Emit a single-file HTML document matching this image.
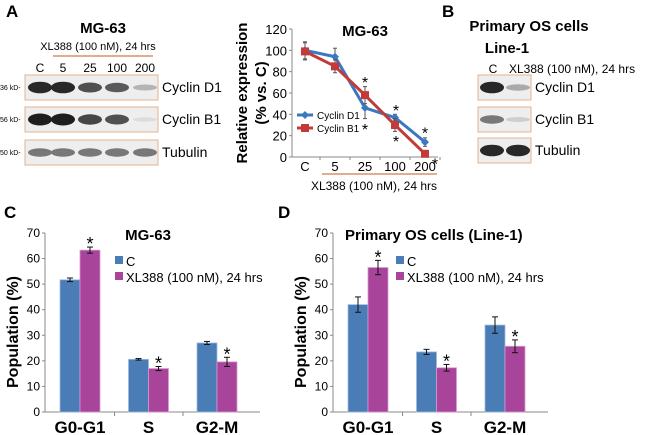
<!DOCTYPE html>
<html><head><meta charset="utf-8"><style>
body{margin:0;background:#fff;}
svg{display:block;font-family:"Liberation Sans",Arial,sans-serif;}
</style></head><body>
<svg id="fig" width="650" height="435" viewBox="0 0 650 435">
<g id="blotA">
<text x="6" y="17" font-size="17" font-weight="bold">A</text>
<text x="103" y="33" font-size="15" font-weight="bold" text-anchor="middle">MG-63</text>
<text x="98" y="50" font-size="11" text-anchor="middle">XL388 (100 nM), 24 hrs</text>
<line x1="53" y1="56" x2="153" y2="56" stroke="#d9926a" stroke-width="1.5"/>
<text x="40" y="72" font-size="12" text-anchor="middle">C</text>
<text x="63" y="72" font-size="12" text-anchor="middle">5</text>
<text x="90" y="72" font-size="12" text-anchor="middle">25</text>
<text x="117" y="72" font-size="12" text-anchor="middle">100</text>
<text x="145" y="72" font-size="12" text-anchor="middle">200</text>
</g>
<g id="blotB">
<text x="442" y="17" font-size="17" font-weight="bold">B</text>
<text x="529" y="31" font-size="15" font-weight="bold" text-anchor="middle">Primary OS cells</text>
<text x="507" y="53" font-size="15" font-weight="bold" text-anchor="middle">Line-1</text>
<text x="493" y="73" font-size="12" text-anchor="middle">C</text>
<text x="509" y="73" font-size="12">XL388 (100 nM), 24 hrs</text>
</g>
<g id="lineA"></g>
<g id="barC"></g>
<g id="barD"></g>
</svg>
<script>
const NS="http://www.w3.org/2000/svg";
function mk(p,t,a,txt){const e=document.createElementNS(NS,t);for(const k in a)e.setAttribute(k,a[k]);if(txt!==undefined)e.textContent=txt;p.appendChild(e);return e;}

// Blots
const blotRowsA=["Cyclin D1","Cyclin B1","Tubulin"];
const blotKdA=["36 kD-","56 kD-","50 kD-"];
const blotIntA=[[0.95,0.95,0.75,0.7,0.25],[1,1,0.8,0.75,0.05],[0.55,0.55,0.55,0.55,0.55]];
const blotRowsB=["Cyclin D1","Cyclin B1","Tubulin"];
const blotIntB=[[0.95,0.3],[0.55,0.12],[0.95,0.95]];
function blot(g,x0,x1,ys,lanes,ints,labels,kd){
  ys.forEach((y,i)=>{
    const r=mk(g,'rect',{x:x0,y:y,width:x1-x0,height:25,fill:'#eeeeee',stroke:'#e2b48f','stroke-width':1});
    
    
    lanes.forEach((lx,j)=>{
      const v=ints[i][j]; const g2=Math.round(230-200*v);
      mk(g,'ellipse',{cx:lx,cy:y+12.5,rx:12,ry:2+4*v,fill:`rgb(${g2},${g2},${g2})`});
    });
    mk(g,'text',{x:x1+4,y:y+17,'font-size':14},labels[i]);
    if(kd) mk(g,'text',{x:0,y:y+15,'font-size':7},kd[i]);
  });
}
blot(document.getElementById('blotA'),25,158,[75,107,140],[40,63,90,117,145],blotIntA,blotRowsA,blotKdA);
blot(document.getElementById('blotB'),478,531,[75,107,138],[492,518],blotIntB,blotRowsB,null);

// Line chart A
const lineCats=["C","5","25","100","200"];
const cyclinD1=[100,94,46,37,14];
const cyclinB1=[99,85,58,30,3];
const errD1=[8,8,10,3,4];
const errB1=[8,6,8,6,2];
const lineTicks=[0,20,40,60,80,100,120];
(function(){
  const g=document.getElementById('lineA');
  const X0=292,Y0=157,Y1=29,step=30,first=305;
  const y=v=>Y0-(v/120)*(Y0-Y1), x=i=>first+i*step;
  mk(g,'line',{x1:X0,y1:Y1,x2:X0,y2:Y0,stroke:'#888'});
  mk(g,'line',{x1:X0,y1:Y0,x2:438,y2:Y0,stroke:'#888'});
  lineTicks.forEach(t=>{mk(g,'line',{x1:X0-3,y1:y(t),x2:X0,y2:y(t),stroke:'#888'});mk(g,'text',{x:X0-5,y:y(t)+5,'font-size':13,'text-anchor':'end'},t);});
  lineCats.forEach((c,i)=>{mk(g,'line',{x1:x(i)+15,y1:Y0,x2:x(i)+15,y2:Y0+3,stroke:'#888'});mk(g,'text',{x:x(i),y:Y0+14,'font-size':13,'text-anchor':'middle'},c);});
  mk(g,'line',{x1:322,y1:174,x2:437,y2:174,stroke:'#d9926a','stroke-width':1.5});
  mk(g,'text',{x:374,y:190,'font-size':12,'text-anchor':'middle'},'XL388 (100 nM), 24 hrs');
  mk(g,'text',{x:365,y:36,'font-size':15,'font-weight':'bold','text-anchor':'middle'},'MG-63');
  const yt=mk(g,'text',{transform:'translate(247,93) rotate(-90)','font-size':15,'font-weight':'bold','text-anchor':'middle'},'Relative expression');
  
  mk(g,'text',{transform:'translate(266,93) rotate(-90)','font-size':15,'font-weight':'bold','text-anchor':'middle'},'(% vs. C)');
  [[cyclinD1,errD1,'#3b78c2','d'],[cyclinB1,errB1,'#c23b3b','s']].forEach(([vals,err,col,shape])=>{
    vals.forEach((v,i)=>{mk(g,'line',{x1:x(i),y1:y(v+err[i]),x2:x(i),y2:y(v-err[i]),stroke:'#555'});mk(g,'line',{x1:x(i)-2,y1:y(v+err[i]),x2:x(i)+2,y2:y(v+err[i]),stroke:'#555'});mk(g,'line',{x1:x(i)-2,y1:y(v-err[i]),x2:x(i)+2,y2:y(v-err[i]),stroke:'#555'});});
    const pl=mk(g,'polyline',{points:vals.map((v,i)=>x(i)+','+y(v)).join(' '),fill:'none',stroke:col,'stroke-width':3});
    
    
    vals.forEach((v,i)=>{
      if(shape==='d') mk(g,'path',{d:`M${x(i)},${y(v)-4}l4,4l-4,4l-4,-4z`,fill:col});
      else mk(g,'rect',{x:x(i)-4,y:y(v)-4,width:8,height:8,fill:col});
    });
  });
  [[365,y(72)],[365,y(28)],[396,y(46)],[396,y(17)],[425,y(25)],[435,y(-4)]].forEach(p=>mk(g,'text',{x:p[0],y:p[1]+8,'font-size':16,'text-anchor':'middle'},'*'));
  mk(g,'line',{x1:297,y1:115,x2:313,y2:115,stroke:'#3b78c2','stroke-width':3});
  mk(g,'path',{d:'M305,111l4,4l-4,4l-4,-4z',fill:'#3b78c2'});
  mk(g,'text',{x:317,y:119,'font-size':10},'Cyclin D1');
  mk(g,'line',{x1:297,y1:128,x2:313,y2:128,stroke:'#c23b3b','stroke-width':3});
  mk(g,'rect',{x:301,y:124,width:8,height:8,fill:'#c23b3b'});
  mk(g,'text',{x:317,y:132,'font-size':10},'Cyclin B1');
})();

// Bar charts
const phases=["G0-G1","S","G2-M"];
const barTicks=[0,10,20,30,40,50,60,70];
const mgControl=[51.7,20.6,27];
const mgXL=[63.3,17,19.6];
const mgErrC=[0.7,0.3,0.6];
const mgErrXL=[1.2,0.8,1.8];
const osControl=[42,23.5,34];
const osXL=[56.5,17.3,25.7];
const osErrC=[3,1,3.2];
const osErrXL=[2.8,1.3,2.5];
function bars(id,ax,first,letter,lx,title,tx,anchor,C,X,eC,eX,legx){
  const g=document.getElementById(id);
  const Y0=412,Y1=233, y=v=>Y0-(v/70)*(Y0-Y1);
  mk(g,'text',{x:lx,y:218,'font-size':17,'font-weight':'bold'},letter);
  mk(g,'line',{x1:ax,y1:Y1,x2:ax,y2:Y0,stroke:'#888'});
  mk(g,'line',{x1:ax,y1:Y0,x2:ax+215,y2:Y0,stroke:'#888'});
  barTicks.forEach(t=>{mk(g,'line',{x1:ax-3,y1:y(t),x2:ax,y2:y(t),stroke:'#888'});mk(g,'text',{x:ax-5,y:y(t)+4,'font-size':12,'text-anchor':'end'},t);});
  const yt=mk(g,'text',{transform:`translate(${ax-27},332) rotate(-90)`,'font-size':16,'font-weight':'bold','text-anchor':'middle'},'Population (%)');
  
  mk(g,'text',{x:tx,y:240,'font-size':15,'font-weight':'bold','text-anchor':anchor},title);
  phases.forEach((p,i)=>{
    const bx=first+i*68.5;
    [[C,eC,'#4a7cb5',0],[X,eX,'#a8449a',20]].forEach(([v,e,col,off])=>{
      const r=mk(g,'rect',{x:bx+off,y:y(v[i]),width:20,height:Y0-y(v[i]),fill:col,stroke:off?'#d99ad0':'#9dbbe0','stroke-width':0.8});
      
      
      const cx=bx+off+10;
      mk(g,'line',{x1:cx,y1:y(v[i]+e[i]),x2:cx,y2:y(v[i]-e[i]),stroke:'#111'});
      mk(g,'line',{x1:cx-3,y1:y(v[i]+e[i]),x2:cx+3,y2:y(v[i]+e[i]),stroke:'#111'});
      mk(g,'line',{x1:cx-3,y1:y(v[i]-e[i]),x2:cx+3,y2:y(v[i]-e[i]),stroke:'#111'});
      if(off) mk(g,'text',{x:cx,y:y(v[i]+e[i])+3,'font-size':18,'text-anchor':'middle'},'*');
    });
    mk(g,'text',{x:bx+20,y:433,'font-size':17,'font-weight':'bold','text-anchor':'middle'},p);
    if(i>0) mk(g,'line',{x1:bx-14,y1:Y0,x2:bx-14,y2:Y0+4,stroke:'#888'});
  });
  mk(g,'rect',{x:legx,y:256,width:8,height:8,fill:'#4a7cb5'});
  mk(g,'text',{x:legx+11,y:266,'font-size':13},'C');
  mk(g,'rect',{x:legx,y:272,width:8,height:8,fill:'#a8449a'});
  mk(g,'text',{x:legx+11,y:282,'font-size':13},'XL388 (100 nM), 24 hrs');
}
bars('barC',45,60,'C',4,'MG-63',148,'middle',mgControl,mgXL,mgErrC,mgErrXL,115);
bars('barD',333,348,'D',278,'Primary OS cells (Line-1)',345,'start',osControl,osXL,osErrC,osErrXL,396);
</script>
</body></html>
